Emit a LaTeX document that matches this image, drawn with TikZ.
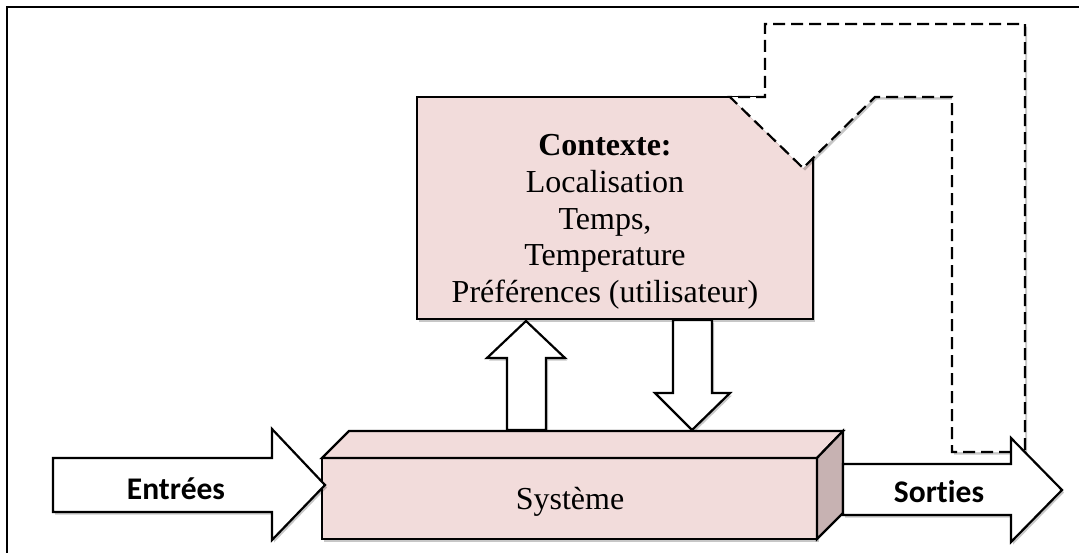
\documentclass[tikz,border=0pt]{standalone}
\usepackage{fontspec}
\setmainfont{Liberation Serif}
\newfontfamily\calibri[Ligatures=NoCommon]{Carlito}
\usetikzlibrary{shadows}
\definecolor{pinkfill}{HTML}{F2DCDB}
\definecolor{sideface}{HTML}{C7B2B2}
\begin{document}
\begin{tikzpicture}[x=1pt,y=-1pt,
  shapeline/.style={draw=black, line width=2.2pt, line join=miter},
  shadowed/.style={drop shadow={shadow xshift=2pt,shadow yshift=-2.5pt,opacity=0.22,fill=black}},
  dashedline/.style={shapeline, dash pattern=on 12pt off 6pt},
  pinkbox/.style={shapeline, fill=pinkfill, inner sep=0pt, outer sep=0pt, shadowed},
  blockarrow/.style={shapeline, fill=white, shadowed},
  serif30/.style={font=\fontsize{32}{36.7}\selectfont},
  sans30/.style={font=\calibri\bfseries\fontsize{31.5}{36}\selectfont}]
\useasboundingbox (0,0) rectangle (1079,552);
\clip (0,0) rectangle (1079,552);
% frame
\draw[line width=2.2pt] (7,7) rectangle (1120,600);
% context box
\node[pinkbox, minimum width=396pt, minimum height=222pt] (ctx) at (615,208) {};
\node[serif30, align=center] (ctxtext) at (605,222)
  {\textbf{Contexte:}\\Localisation\\Temps,\\Temperature\\Préférences (utilisateur)};
% dashed feedback arrow
\draw[dashedline, fill=white, shadowed]
  (1011,452) -- (952,452) -- (952,97) -- (875,97) -- (803,168) -- (730,97)
  -- (765,97) -- (765,24) -- (1025,24) -- (1025,452);
% up and down arrows
\draw[blockarrow] (507,430) -- (507,358) -- (487,358) -- (526,321) -- (565,358)
  -- (546,358) -- (546,430) -- cycle;
\draw[blockarrow] (673,320) -- (673,393) -- (655,393) -- (692,430) -- (730,393)
  -- (712,393) -- (712,320) -- cycle;
% system box
\node[pinkbox, minimum width=495pt, minimum height=81pt] (sys) at (569.5,498.5) {};
\draw[shapeline, fill=pinkfill] (sys.north west) -- (349,431) -- (843,431)
  -- (sys.north east) -- cycle;
\draw[shapeline, fill=sideface] (sys.north east) -- (843,431) -- (843,513)
  -- (sys.south east) -- cycle;
\node[serif30, anchor=base] (systxt) at (570,509) {Système};
% inputs / outputs
\draw[blockarrow] (53,458) -- (272,458) -- (272,429) -- (325,485) -- (272,540)
  -- (272,512) -- (53,512) -- cycle;
\node[sans30, anchor=base] (intxt) at (176,499) {Entrées};
\draw[blockarrow] (843,464) -- (1011,464) -- (1011,438) -- (1062,490) -- (1011,542)
  -- (1011,515) -- (843,515) -- cycle;
\node[sans30, anchor=base] (outtxt) at (939,502) {Sorties};
\end{tikzpicture}
\end{document}
